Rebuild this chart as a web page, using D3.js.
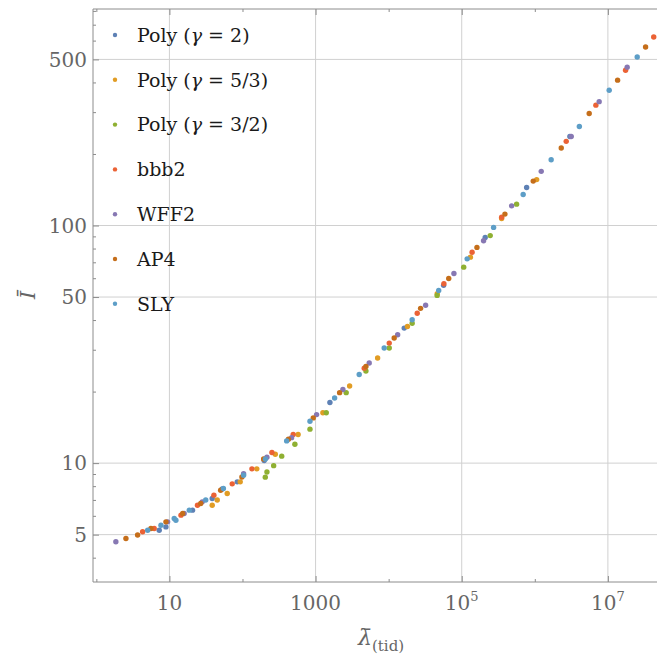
<!DOCTYPE html>
<html>
<head>
<meta charset="utf-8">
<script src="https://cdn.jsdelivr.net/npm/d3@7"></script>
<style>
  body { margin: 0; background: #fff; }
  text { font-family: "DejaVu Serif", serif; }
</style>
</head>
<body>
<main></main>
<script>
// series, [lambda, I] pairs
const polyGamma2 = [[7.25, 5.22], [8.96, 5.39], [20.7, 6.34], [38.5, 7.10], [52.8, 7.78], [84.7, 8.34],
  [198, 10.26], [1571, 18.0], [16330, 37.0], [56500, 56.0], [209400, 89.1], [773000, 144.5], [3.02e6, 237]];
const polyGamma53 = [[38.5, 6.65], [45.1, 6.99], [61.8, 7.45], [93.1, 8.34], [157, 9.46], [281, 10.9],
  [577, 13.2], [1259, 16.3], [2924, 21.1], [7063, 27.7], [18070, 37.6], [46240, 51.6], [131500, 73.6],
  [351600, 107], [1.06e6, 156]];
const polyGamma32 = [[205, 8.73], [216, 9.17], [267, 9.76], [344, 10.7], [521, 12.0], [838, 13.9],
  [1400, 16.3], [2624, 19.8], [4887, 24.4], [10190, 30.5], [20990, 38.8], [46060, 50.8], [106400, 66.8],
  [245500, 90.7], [563600, 123]];
const bbb2 = [[4.30, 5.14], [6.19, 5.31], [14.4, 6.04], [24.2, 6.65], [40.6, 7.33], [72.3, 8.18],
  [134.6, 9.46], [252.7, 11.08], [494, 13.2], [4634, 25.1], [10190, 32.0], [24600, 42.7], [57000, 56.9],
  [138700, 77.2], [351600, 108.3], [2.69e6, 226], [6.85e6, 321], [1.746e7, 450], [4.24e7, 621]];
const wff2 = [[1.85, 4.67], [9.45, 5.66], [15.9, 6.14], [28.1, 6.87], [103.5, 9.02], [216, 10.58],
  [470, 12.8], [1033, 16.0], [2365, 20.4], [5420, 26.4], [13280, 34.7], [32060, 46.2], [78200, 62.8],
  [199000, 86.3], [482000, 121], [1.225e6, 169], [3.15e6, 237], [7.6e6, 332], [1.837e7, 464]];
const ap4 = [[2.54, 4.82], [3.67, 4.98], [5.58, 5.31], [8.96, 5.66], [15.2, 6.14], [26.8, 6.76],
  [50.2, 7.69], [98.2, 8.74], [194.5, 10.4], [425, 12.6], [929, 15.5], [2133, 19.8], [4887, 25.5],
  [11900, 33.6], [27350, 44.8], [66400, 59.8], [161500, 80.9], [390000, 111.7], [951000, 153.8],
  [2.3e6, 211.8], [5.55e6, 296], [1.358e7, 409], [3.28e7, 564]];
const sly = [[5.04, 5.22], [7.66, 5.48], [11.63, 5.85], [12.27, 5.75], [18.7, 6.34], [31.4, 6.99],
  [54.8, 7.82], [103.5, 8.89], [206, 10.4], [402, 12.4], [838, 15.0], [1822, 18.8], [3955, 23.6],
  [8690, 30.5], [20990, 40.1], [48400, 53.3], [118600, 72.4], [273000, 98.2], [693000, 135],
  [1.675e6, 189], [4.07e6, 261], [1.042e7, 371], [2.52e7, 512]];

const seriesNames = ["Poly (γ = 2)", "Poly (γ = 5/3)", "Poly (γ = 3/2)", "bbb2", "WFF2", "AP4", "SLY"];
const seriesData = [polyGamma2, polyGamma53, polyGamma32, bbb2, wff2, ap4, sly];
const colors = ["#5e81b5", "#e19c24", "#8fb032", "#eb6235", "#8778b3", "#c56e1a", "#5d9ec7"];

const xTicks = [10, 1000, 1e5, 1e7];
const xTickLabels = [["10", ""], ["1000", ""], ["10", "5"], ["10", "7"]];
const xMinorTicks = [1, 100, 1e4, 1e6];
const yTicks = [5, 10, 50, 100, 500];
const yTickLabels = ["5", "10", "50", "100", "500"];

const w = 657;
const h = 660;
const pLeft = 93, pTop = 9, pRight = 657, pBottom = 582;

const x = d3.scaleLog().domain([0.9, 4.7e7]).range([pLeft, pRight]);
const y = d3.scaleLog().domain([3.16, 815]).range([pBottom, pTop]);

const yMinor = [];
[1, 10, 100].forEach(dec => {
  for (let k = 1; k <= 9; k++) {
    const v = k * dec;
    if (v > 3.16 && v < 815 && !yTicks.includes(v)) yMinor.push(v);
  }
});

const svg = d3.select("main")
  .append("svg")
  .attr("width", w)
  .attr("height", h);

// grid
svg.append("g")
  .selectAll("line")
  .data(xTicks)
  .enter()
  .append("line")
  .attr("x1", d => x(d)).attr("x2", d => x(d))
  .attr("y1", pTop).attr("y2", pBottom)
  .attr("stroke", "#d0d0d0");

svg.append("g")
  .selectAll("line")
  .data(yTicks)
  .enter()
  .append("line")
  .attr("x1", pLeft).attr("x2", pRight)
  .attr("y1", d => y(d)).attr("y2", d => y(d))
  .attr("stroke", "#d0d0d0");

// frame + inside ticks
const frame = "#8c8c8c";
function styleAxis(g) {
  g.select(".domain").remove();
  g.selectAll(".tick line").attr("stroke", frame);
  g.selectAll(".tick text").remove();
}

svg.append("g").attr("transform", `translate(0,${pBottom})`)
  .call(d3.axisBottom(x).tickValues(xTicks).tickSize(-6).tickFormat("")).call(styleAxis);
svg.append("g").attr("transform", `translate(0,${pBottom})`)
  .call(d3.axisBottom(x).tickValues(xMinorTicks).tickSize(-3).tickFormat("")).call(styleAxis);
svg.append("g").attr("transform", `translate(0,${pTop})`)
  .call(d3.axisTop(x).tickValues(xTicks).tickSize(-6).tickFormat("")).call(styleAxis);
svg.append("g").attr("transform", `translate(0,${pTop})`)
  .call(d3.axisTop(x).tickValues(xMinorTicks).tickSize(-3).tickFormat("")).call(styleAxis);
svg.append("g").attr("transform", `translate(${pLeft},0)`)
  .call(d3.axisLeft(y).tickValues(yTicks).tickSize(-6).tickFormat("")).call(styleAxis);
svg.append("g").attr("transform", `translate(${pLeft},0)`)
  .call(d3.axisLeft(y).tickValues(yMinor).tickSize(-3).tickFormat("")).call(styleAxis);

svg.append("path")
  .attr("d", `M${pRight},${pTop}H${pLeft}V${pBottom}H${pRight}`)
  .attr("fill", "none")
  .attr("stroke", frame);

// tick labels
const xl = svg.append("g")
  .selectAll("text")
  .data(xTicks)
  .enter()
  .append("text")
  .attr("x", d => x(d))
  .attr("y", pBottom + 28)
  .attr("text-anchor", "middle")
  .attr("font-size", 20)
  .attr("fill", "#666");
xl.append("tspan").text((d, i) => xTickLabels[i][0]);
xl.append("tspan")
  .attr("font-size", 13)
  .attr("dy", -9)
  .text((d, i) => xTickLabels[i][1]);

svg.append("g")
  .selectAll("text")
  .data(yTicks)
  .enter()
  .append("text")
  .attr("x", pLeft - 6)
  .attr("y", d => y(d))
  .attr("dy", "0.36em")
  .attr("text-anchor", "end")
  .attr("font-size", 20)
  .attr("fill", "#666")
  .text((d, i) => yTickLabels[i]);

// axis titles
const xt = svg.append("text")
  .attr("x", 358)
  .attr("y", 645)
  .attr("font-size", 22)
  .attr("fill", "#666");
xt.append("tspan").attr("font-style", "italic").text("λ\u0304");
xt.append("tspan").attr("font-size", 15).attr("dy", 6).text("(tid)");

svg.append("text")
  .attr("transform", "translate(35,295) rotate(-90)")
  .attr("text-anchor", "middle")
  .attr("font-size", 21)
  .attr("font-style", "italic")
  .attr("fill", "#666")
  .text("I\u0304");

// points
seriesData.forEach((pts, i) => {
  svg.append("g")
    .selectAll("circle")
    .data(pts)
    .enter()
    .append("circle")
    .attr("cx", d => x(d[0]))
    .attr("cy", d => y(d[1]))
    .attr("r", 2.7)
    .attr("fill", colors[i]);
});

// legend
const legend = svg.append("g")
  .selectAll("g")
  .data(seriesNames)
  .enter()
  .append("g")
  .attr("transform", (d, i) => `translate(115,${35 + i * 44.8})`);

legend.append("circle")
  .attr("r", 2.2)
  .attr("fill", (d, i) => colors[i]);

legend.append("text")
  .attr("x", 22)
  .attr("dy", "0.36em")
  .attr("font-size", 19)
  .attr("fill", "#1a1a1a")
  .each(function(d) {
    const t = d3.select(this);
    const m = d.match(/^(.*\()γ(.*)$/);
    if (m) {
      t.append("tspan").text(m[1]);
      t.append("tspan").attr("font-style", "italic").text("γ");
      t.append("tspan").text(m[2]);
    } else {
      t.text(d);
    }
  });
</script>
</body>
</html>
